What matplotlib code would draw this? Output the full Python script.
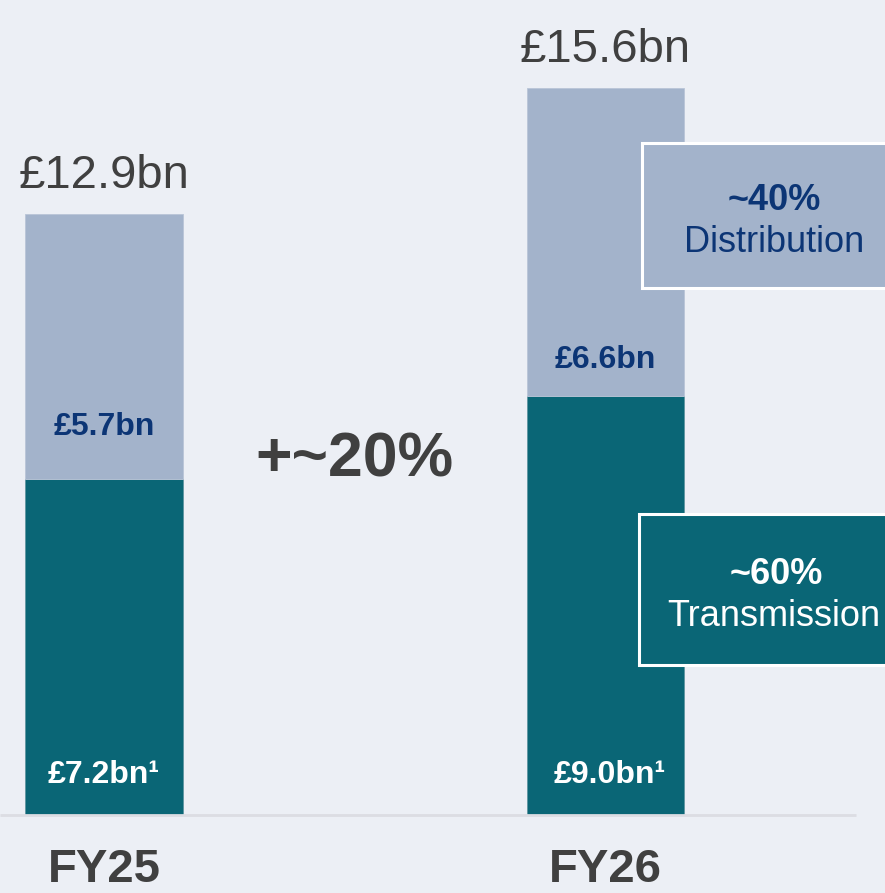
import matplotlib
matplotlib.use("Agg")
import matplotlib.pyplot as plt
from matplotlib.patches import Rectangle

plt.rcParams['font.family'] = ['Liberation Sans', 'DejaVu Sans']

# ---- data ----
categories = ["FY25", "FY26"]
transmission = [7.2, 9.0]
distribution = [5.7, 6.6]
totals = [12.9, 15.6]
total_labels = ["£12.9bn", "£15.6bn"]
trans_labels = ["£7.2bn¹", "£9.0bn¹"]
dist_labels = ["£5.7bn", "£6.6bn"]
growth_label = "+~20%"
dist_share = ("~40%", "Distribution")
trans_share = ("~60%", "Transmission")

# ---- style ----
BG = "#eceff5"
TEAL = "#0a6676"
LIGHT = "#a3b3cb"
NAVY = "#0c3575"
GREY = "#404040"

W, H = 885, 893
fig = plt.figure(figsize=(W / 100, H / 100), dpi=100, facecolor=BG)
base_px = 78  # baseline from bottom in px
ax = fig.add_axes([0, base_px / H, 1, (H - base_px) / H])
ax.set_facecolor(BG)
px_per_unit_x = 501.0
x0_px = 104.0
ax.set_xlim(-x0_px / px_per_unit_x, (W - x0_px) / px_per_unit_x)
px_per_bn = 46.6
ax.set_ylim(0, (H - base_px) / px_per_bn)
for s in ax.spines.values():
    s.set_visible(False)
ax.set_yticks([])

x = list(range(len(categories)))
bw = 157 / px_per_unit_x
ax.bar(x, transmission, width=bw, color=TEAL, edgecolor="#5f95a0", linewidth=0.6, zorder=2)
ax.bar(x, distribution, width=bw, bottom=transmission, color=LIGHT,
       edgecolor="#b9c5d7", linewidth=0.6, zorder=2)

# baseline
ax.plot([-x0_px / px_per_unit_x, (856 - x0_px) / px_per_unit_x], [0, 0],
        color="#dcdde3", lw=2, zorder=3, clip_on=False, solid_capstyle="butt")

ax.set_xticks(x, categories)
ax.tick_params(axis="x", length=0, pad=24, labelsize=34, labelcolor=GREY)
for t in ax.get_xticklabels():
    t.set_fontweight("bold")

# labels
dist_label_offsets = [1.12, 0.77]
for i in x:
    ax.text(i, totals[i] + 0.82, total_labels[i], ha="center", va="center",
            fontsize=34, color=GREY, zorder=4)
    ax.text(i + 0.01 * i, 0.86, trans_labels[i], ha="center", va="center",
            fontsize=23, color="white", fontweight="bold", zorder=4)
    ax.text(i, transmission[i] + dist_label_offsets[i], dist_labels[i], ha="center",
            va="center", fontsize=23, color=NAVY, fontweight="bold", zorder=4)

ax.text(0.499, 7.62, growth_label, ha="center", va="center", fontsize=45,
        color=GREY, fontweight="bold", zorder=4)

# callout boxes (figure pixel coords)
def px_box(x1, y1, x2, y2, color):
    r = Rectangle((x1 / W, 1 - y2 / H), (x2 - x1) / W, (y2 - y1) / H,
                  transform=fig.transFigure, facecolor=color, edgecolor="white",
                  linewidth=2.2, zorder=5)
    fig.add_artist(r)

px_box(642, 143, 895, 288, LIGHT)
px_box(639, 514, 895, 665, TEAL)

fig.text(774 / W, 1 - 200 / H, dist_share[0], ha="center", va="center",
         fontsize=26, fontweight="bold", color=NAVY, zorder=6)
fig.text(774 / W, 1 - 243 / H, dist_share[1], ha="center", va="center",
         fontsize=26, color=NAVY, zorder=6)
fig.text(776 / W, 1 - 575 / H, trans_share[0], ha="center", va="center",
         fontsize=26, fontweight="bold", color="white", zorder=6)
fig.text(774 / W, 1 - 617 / H, trans_share[1], ha="center", va="center",
         fontsize=26, color="white", zorder=6)

fig.savefig("out.png", dpi=100, facecolor=BG)
